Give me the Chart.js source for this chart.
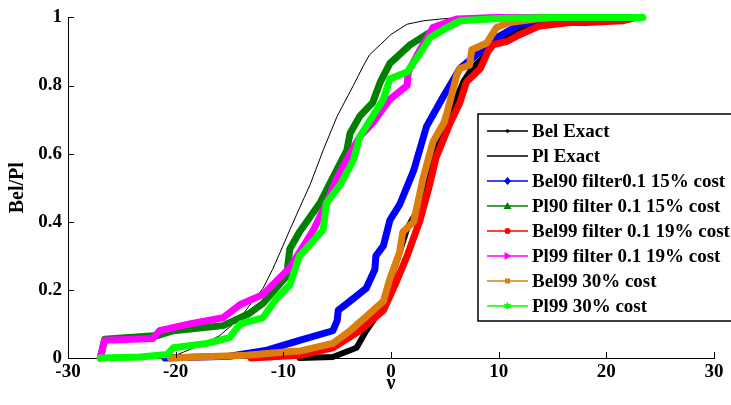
<!DOCTYPE html>
<html>
<head>
<meta charset="utf-8">
<script src="https://cdn.jsdelivr.net/npm/chart.js@4/dist/chart.umd.min.js"></script>
<style>
html,body{margin:0;padding:0;background:#fff;}
canvas{display:block;}
</style>
</head>
<body>
<canvas id="c" width="731" height="405"></canvas>
<script>
// ---- data ----
const xTicks = [-30, -20, -10, 0, 10, 20, 30];
const yTicks = [0, 0.2, 0.4, 0.6, 0.8, 1];

const seriesNames = ["Bel Exact", "Pl Exact", "Bel90 filter0.1 15% cost", "Pl90 filter 0.1 15% cost",
  "Bel99 filter 0.1 19% cost", "Pl99 filter 0.1 19% cost", "Bel99 30% cost", "Pl99 30% cost"];

const belExactX = [-8.5,-5.4,-3.2,-2.3,-1,-0.1,0.8,1.5,2.4,3.0,3.9,4.5,5.5,6.7,7.5,8.5,9.5,10.5,12,14,17,20];
const belExactY = [0,0.003,0.03,0.08,0.14,0.224,0.31,0.38,0.43,0.5,0.59,0.64,0.72,0.81,0.85,0.88,0.92,0.94,0.97,0.985,0.995,1];

const plExactX = [-26,-22,-20,-19.3,-17.5,-15.9,-14,-13,-11.9,-11,-10.3,-9.4,-8.5,-7.5,-6.3,-5,-4,-3.5,-2.6,-2,-1,0,1.5,3,4.5,6.5,12];
const plExactY = [0,0.003,0.008,0.017,0.04,0.066,0.118,0.16,0.204,0.26,0.31,0.376,0.44,0.51,0.61,0.71,0.77,0.8,0.856,0.89,0.92,0.95,0.98,0.99,0.995,1,1];

const bel90X = [-21,-15,-11.5,-8.5,-5.4,-5,-4.9,-3.8,-2.3,-1.5,-1.4,-0.7,-0.1,0.8,2.1,3.3,4.9,6.4,8.3,9.8,12,15,18,21.3];
const bel90Y = [0,0.005,0.023,0.052,0.08,0.11,0.14,0.167,0.205,0.26,0.30,0.33,0.405,0.45,0.55,0.68,0.77,0.85,0.9,0.94,0.98,0.99,0.99,0.995];

const pl90X = [-27,-26.6,-21.7,-20.2,-15.6,-13.2,-11.9,-9.7,-9.4,-8.5,-6.6,-5.4,-4.1,-3.8,-2.9,-1.7,-1,-0.1,1.8,3.3,5.8,8,12,20];
const pl90Y = [0,0.055,0.066,0.08,0.095,0.13,0.16,0.24,0.32,0.37,0.455,0.53,0.61,0.66,0.71,0.75,0.81,0.865,0.92,0.95,0.99,0.997,1,1];

const bel99X = [-13,-8.5,-5.4,-2.9,-0.7,0.5,1.5,2.7,3.6,4.2,5.5,6.4,7.0,8.3,9.0,9.5,10.8,12,13.8,16.6,18.2,21.5,22.8];
const bel99Y = [0,0.008,0.03,0.08,0.14,0.224,0.3,0.405,0.51,0.59,0.69,0.75,0.81,0.85,0.9,0.92,0.93,0.95,0.975,0.985,0.985,0.99,1];

const pl99X = [-27,-26.6,-22.1,-21.5,-18.7,-15.6,-14,-11.9,-9.4,-7.2,-6,-5,-3.8,-2.9,-1.7,-0.1,1.5,1.6,2.7,3.9,6.1,10,14];
const pl99Y = [0,0.052,0.057,0.08,0.1,0.118,0.157,0.186,0.265,0.376,0.455,0.53,0.6,0.65,0.69,0.76,0.8,0.84,0.905,0.97,0.995,1,1];

const bel99cX = [-20.5,-13.4,-9.1,-8.5,-5.4,-3.8,-2,-0.7,-0.1,0.8,1.1,2.1,3.0,3.9,4.9,5.2,6.1,6.4,7.3,7.5,8.9,9.8,11,13.5,15];
const bel99cY = [0,0.008,0.02,0.02,0.043,0.08,0.13,0.167,0.233,0.31,0.37,0.40,0.53,0.635,0.69,0.72,0.83,0.85,0.86,0.905,0.925,0.97,0.985,0.995,1];

const pl99cX = [-27,-23.3,-20.8,-20.2,-17.1,-15,-14,-11.9,-10.6,-9.4,-8.5,-6.3,-6,-4.7,-3.5,-2.9,-1.7,-0.7,-0.1,1.5,2.7,3.6,5.2,6.4,10,15,20,23.4];
const pl99cY = [0,0.003,0.01,0.03,0.043,0.06,0.1,0.118,0.176,0.215,0.3,0.376,0.455,0.51,0.58,0.65,0.71,0.76,0.82,0.84,0.895,0.94,0.97,0.99,0.997,1,1,1];

const colors = ["#000000", "#000000", "#0000ff", "#008000", "#ff0000", "#ff00ff", "#dc7d0c", "#00ff00"];
const markers = ["dot", "none", "diamond", "triUp", "circle", "triRight", "square", "star"];

const seriesX = [belExactX, plExactX, bel90X, pl90X, bel99X, pl99X, bel99cX, pl99cX];
const seriesY = [belExactY, plExactY, bel90Y, pl90Y, bel99Y, pl99Y, bel99cY, pl99cY];
const widths = [6, 1, 7, 7, 7, 7, 7, 7];

const FONT = "'Liberation Serif', 'Times New Roman', serif";
const L = 68, R = 714, T = 10, B = 358;

const datasets = seriesNames.map((name, i) => ({
  label: name,
  data: seriesX[i].map((x, k) => ({x: x, y: seriesY[i][k]})),
  borderColor: colors[i],
  backgroundColor: colors[i],
  borderWidth: widths[i],
  pointRadius: 0,
  tension: 0,
  fill: false,
  borderJoinStyle: 'round',
  borderCapStyle: 'round',
  clip: 12,
  order: seriesNames.length - i
}));

function drawMarker(ctx, type, x, y, color) {
  ctx.save();
  ctx.fillStyle = color;
  ctx.strokeStyle = color;
  ctx.beginPath();
  if (type === 'dot') { ctx.arc(x, y, 1.8, 0, Math.PI * 2); ctx.fill(); }
  else if (type === 'circle') { ctx.arc(x, y, 3, 0, Math.PI * 2); ctx.fill(); }
  else if (type === 'diamond') { ctx.moveTo(x, y - 4); ctx.lineTo(x + 3.5, y); ctx.lineTo(x, y + 4); ctx.lineTo(x - 3.5, y); ctx.closePath(); ctx.fill(); }
  else if (type === 'triUp') { ctx.moveTo(x, y - 4); ctx.lineTo(x + 4, y + 3); ctx.lineTo(x - 4, y + 3); ctx.closePath(); ctx.fill(); }
  else if (type === 'triRight') { ctx.moveTo(x + 4, y); ctx.lineTo(x - 3, y - 4); ctx.lineTo(x - 3, y + 4); ctx.closePath(); ctx.fill(); }
  else if (type === 'square') { ctx.rect(x - 2.5, y - 2.5, 5, 5); ctx.fill(); }
  else if (type === 'star') {
    for (let k = 0; k < 12; k++) {
      const a = -Math.PI / 2 + k * Math.PI / 6;
      const r = (k % 2 === 0) ? 4.5 : 2.2;
      const px = x + r * Math.cos(a), py = y + r * Math.sin(a);
      if (k === 0) ctx.moveTo(px, py); else ctx.lineTo(px, py);
    }
    ctx.closePath(); ctx.fill();
  }
  ctx.restore();
}

const extras = {
  id: 'extras',
  afterDraw(chart) {
    const ctx = chart.ctx;
    const xs = chart.scales.x, ys = chart.scales.y;
    const ca = chart.chartArea;
    ctx.save();
    // inward ticks
    ctx.strokeStyle = '#000';
    ctx.lineWidth = 1;
    xTicks.forEach(v => {
      const px = Math.round(xs.getPixelForValue(v)) + 0.5;
      ctx.beginPath(); ctx.moveTo(px, ca.bottom); ctx.lineTo(px, ca.bottom - 6); ctx.stroke();
    });
    yTicks.forEach(v => {
      const py = Math.round(ys.getPixelForValue(v)) + 0.5;
      ctx.beginPath(); ctx.moveTo(ca.left, py); ctx.lineTo(ca.left + 6, py); ctx.stroke();
    });
    // legend box
    const bx = 478, by = 114, bw = 262, bh = 207;
    ctx.fillStyle = '#fff';
    ctx.fillRect(bx, by, bw, bh);
    ctx.lineWidth = 1.5;
    ctx.strokeStyle = '#000';
    ctx.strokeRect(bx, by, bw, bh);
    ctx.font = "bold 19px " + FONT;
    ctx.textBaseline = 'middle';
    ctx.textAlign = 'left';
    seriesNames.forEach((name, i) => {
      const y = 131 + i * 25;
      ctx.strokeStyle = colors[i];
      ctx.lineWidth = 1.5;
      ctx.beginPath(); ctx.moveTo(487, y); ctx.lineTo(528, y); ctx.stroke();
      drawMarker(ctx, markers[i], 507.5, y, colors[i]);
      ctx.fillStyle = '#000';
      ctx.fillText(name, 532, y + 1);
    });
    ctx.restore();
  }
};

new Chart(document.getElementById('c'), {
  type: 'line',
  data: { datasets: datasets },
  options: {
    responsive: false,
    animation: false,
    devicePixelRatio: 1,
    layout: { padding: { left: 0, right: 731 - R, top: T, bottom: 0 } },
    plugins: { legend: { display: false }, tooltip: { enabled: false } },
    scales: {
      x: {
        type: 'linear', min: -30, max: 30,
        afterFit(s) { s.height = 405 - B; },
        afterBuildTicks(s) { s.ticks = xTicks.map(v => ({value: v})); },
        grid: { display: true, drawOnChartArea: false, drawTicks: false },
        border: { display: true, color: '#000', width: 1 },
        ticks: { color: '#000', padding: 3, font: { family: FONT, size: 19, weight: 'bold' }, maxRotation: 0, callback: v => String(v) },
        title: { display: true, text: 'ν', color: '#000', font: { family: FONT, size: 20, weight: 'bold' }, padding: { top: 0, bottom: 9 } }
      },
      y: {
        type: 'linear', min: 0, max: 1,
        afterFit(s) { s.width = L; },
        afterBuildTicks(s) { s.ticks = yTicks.map(v => ({value: v})); },
        grid: { display: true, drawOnChartArea: false, drawTicks: false },
        border: { display: true, color: '#000', width: 1 },
        ticks: { color: '#000', padding: 6, font: { family: FONT, size: 19, weight: 'bold' }, callback: v => String(Math.round(v * 10) / 10) },
        title: { display: true, text: 'Bel/Pl', color: '#000', font: { family: FONT, size: 20, weight: 'bold' }, padding: { top: 6, bottom: 0 } }
      }
    }
  },
  plugins: [extras]
});
</script>
</body>
</html>
